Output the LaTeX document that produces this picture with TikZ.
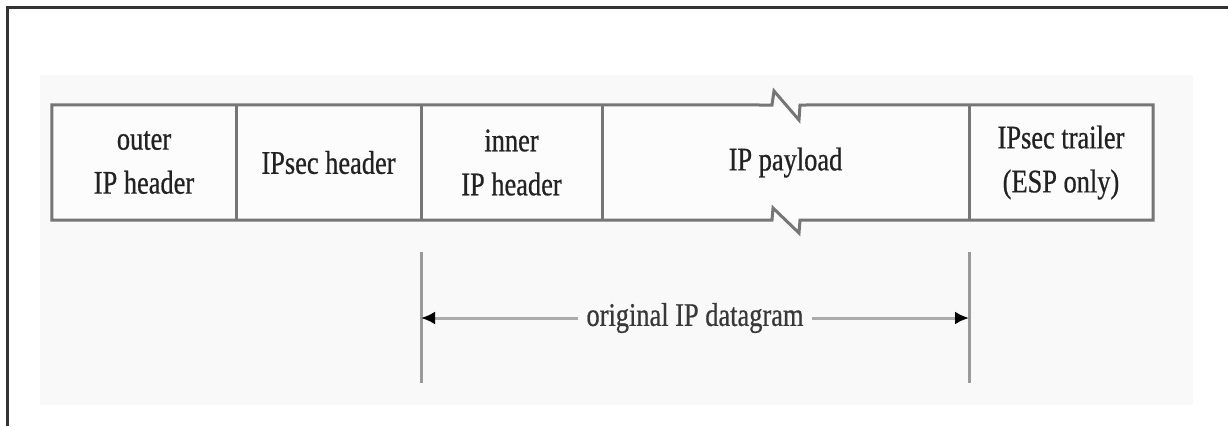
\documentclass[tikz,border=0pt]{standalone}
\usepackage{fontspec}
\setmainfont{Liberation Serif}
\newfontfamily\diagfont[FakeStretch=0.8,FakeBold=0.6]{Liberation Serif}
\usetikzlibrary{arrows.meta}
\definecolor{framecol}{HTML}{333333}
\definecolor{bgcol}{HTML}{F9F9F9}
\definecolor{cellcol}{HTML}{FCFCFC}
\definecolor{boxcol}{HTML}{767676}
\definecolor{guidecol}{HTML}{9A9A9A}
\definecolor{dimcol}{HTML}{ABABAB}
\definecolor{textcol}{HTML}{222222}
\begin{document}
\begin{tikzpicture}[x=1pt,y=-1pt,
  cell/.style={minimum height=115pt, inner sep=0pt, align=center,
    font=\diagfont\fontsize{33}{44}\selectfont, text=textcol},
  boxline/.style={draw=boxcol, line width=3pt, line join=miter},
  guide/.style={draw=guidecol, line width=3pt},
  dimline/.style={draw=dimcol, line width=3pt, -{Latex[length=14pt,width=13pt,color=black]}},
  dimlabel/.style={inner xsep=8pt, inner ysep=0pt,
    font=\diagfont\fontsize{33}{44}\selectfont, text=textcol!90!white}]
\useasboundingbox (0,0) rectangle (1228,426);
\fill[bgcol] (40,75) rectangle (1193,405);
\draw[framecol, line width=3pt] (7,426) -- (7,7) -- (1228,7);
\fill[cellcol] (52,105) rectangle (1153,220);
% cells
\node[cell, minimum width=184pt] (c1) at (144,162.5) {outer\\IP header};
\node[cell, minimum width=185pt] (c2) at (328.5,162.5) {IPsec header};
\node[cell, minimum width=181pt] (c3) at (511.5,162.5) {inner\\IP header};
\node[cell, minimum width=367pt] (c4) at (785.5,162.5) {IP payload};
\node[cell, minimum width=184pt] (c5) at (1061,162.5) {IPsec trailer\\(ESP only)};
% outline with break marks
\draw[boxline] (c1.north west) -- (772,105) -- (774,91) -- (799,120) -- (800,105)
  -- (c5.north east) -- (c5.south east) -- (800,220) -- (799,233) -- (773,208)
  -- (772,220) -- (c1.south west) -- cycle;
\draw[boxline] (c1.north east) -- (c1.south east);
\draw[boxline] (c2.north east) -- (c2.south east);
\draw[boxline] (c3.north east) -- (c3.south east);
\draw[boxline] (c4.north east) -- (c4.south east);
% guides
\coordinate (la) at (421,252);
\coordinate (lb) at (421,383);
\coordinate (ra) at (969,252);
\coordinate (rb) at (969,383);
\coordinate (lm) at (421,318);
\coordinate (rm) at (969,318);
\draw[guide] (la) -- (lb);
\draw[guide] (ra) -- (rb);
\node[dimlabel] (orig) at (695,318) {original IP datagram};
\draw[dimline] (orig.west) -- (lm);
\draw[dimline] (orig.east) -- (rm);
\end{tikzpicture}
\end{document}
